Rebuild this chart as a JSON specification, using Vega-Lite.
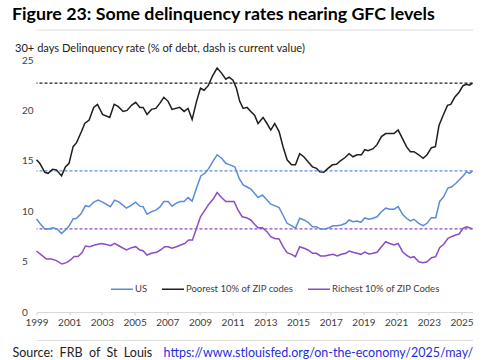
{
  "$schema": "https://vega.github.io/schema/vega-lite/v6.json",
  "autosize": "none",
  "padding": {"left": 36.5, "top": 60, "right": 12, "bottom": 48},
  "width": 436,
  "height": 252,
  "config": {"view": {"stroke": null}, "font": "Lato"},
  "title": {"text": "Figure 23: Some delinquency rates nearing GFC levels", "anchor": "start", "frame": "group", "dx": -24.5, "dy": 2, "fontSize": 17.8, "font": "Lato", "fontWeight": "bold", "color": "#000000", "offset": 8},
  "datasets": {
    "current": [
      {"s": "US", "v": 14.0},
      {"s": "Poorest 10% of ZIP codes", "v": 22.7},
      {"s": "Richest 10% of ZIP Codes", "v": 8.25}
    ],
    "us": [
      {"t":1999.00,"v":9.23},{"t":1999.20,"v":8.8},{"t":1999.51,"v":8.23},{"t":1999.71,"v":8.23},{"t":2000.02,"v":8.36},{"t":2000.26,"v":8.23},{"t":2000.53,"v":7.8},{"t":2000.77,"v":8.13},{"t":2000.99,"v":8.53},{"t":2001.24,"v":9.23},{"t":2001.45,"v":9.3},{"t":2001.75,"v":9.8},{"t":2001.99,"v":10.55},{"t":2002.22,"v":10.45},{"t":2002.50,"v":10.9},{"t":2002.77,"v":11.1},{"t":2003.04,"v":10.9},{"t":2003.52,"v":10.45},{"t":2003.78,"v":11.1},{"t":2004.05,"v":10.9},{"t":2004.50,"v":10.3},{"t":2004.81,"v":10.6},{"t":2005.07,"v":10.9},{"t":2005.32,"v":10.5},{"t":2005.52,"v":10.45},{"t":2005.76,"v":9.7},{"t":2006.03,"v":9.95},{"t":2006.30,"v":10.1},{"t":2006.54,"v":10.4},{"t":2006.79,"v":10.95},{"t":2007.05,"v":10.95},{"t":2007.29,"v":10.5},{"t":2007.56,"v":10.8},{"t":2007.80,"v":10.95},{"t":2008.03,"v":10.95},{"t":2008.27,"v":11.35},{"t":2008.52,"v":11.0},{"t":2008.79,"v":12.3},{"t":2009.05,"v":13.5},{"t":2009.30,"v":13.76},{"t":2009.54,"v":14.25},{"t":2009.81,"v":15.0},{"t":2010.05,"v":15.6},{"t":2010.32,"v":15.25},{"t":2010.58,"v":14.75},{"t":2010.83,"v":14.6},{"t":2011.13,"v":14.4},{"t":2011.40,"v":13.25},{"t":2011.64,"v":12.6},{"t":2011.88,"v":12.4},{"t":2012.11,"v":12.2},{"t":2012.35,"v":11.75},{"t":2012.55,"v":11.35},{"t":2012.82,"v":11.6},{"t":2013.10,"v":11.1},{"t":2013.33,"v":10.7},{"t":2013.57,"v":10.55},{"t":2013.84,"v":10.35},{"t":2014.08,"v":9.6},{"t":2014.33,"v":8.8},{"t":2014.60,"v":8.56},{"t":2014.84,"v":8.3},{"t":2015.10,"v":9.3},{"t":2015.37,"v":9.13},{"t":2015.61,"v":8.9},{"t":2015.88,"v":8.46},{"t":2016.13,"v":8.46},{"t":2016.37,"v":8.23},{"t":2016.63,"v":8.23},{"t":2016.90,"v":8.36},{"t":2017.14,"v":8.56},{"t":2017.39,"v":8.56},{"t":2017.65,"v":8.63},{"t":2017.92,"v":8.8},{"t":2018.12,"v":9.13},{"t":2018.36,"v":8.96},{"t":2018.61,"v":9.03},{"t":2018.84,"v":8.9},{"t":2019.08,"v":9.33},{"t":2019.34,"v":9.2},{"t":2019.59,"v":9.3},{"t":2019.83,"v":9.45},{"t":2020.10,"v":9.95},{"t":2020.36,"v":10.3},{"t":2020.61,"v":10.2},{"t":2020.87,"v":10.2},{"t":2021.12,"v":10.45},{"t":2021.39,"v":9.7},{"t":2021.63,"v":9.3},{"t":2021.87,"v":9.03},{"t":2022.09,"v":9.2},{"t":2022.38,"v":8.8},{"t":2022.65,"v":8.56},{"t":2022.89,"v":8.8},{"t":2023.16,"v":9.36},{"t":2023.42,"v":9.36},{"t":2023.66,"v":10.95},{"t":2023.91,"v":11.45},{"t":2024.17,"v":12.3},{"t":2024.38,"v":12.4},{"t":2024.64,"v":12.75},{"t":2024.85,"v":13.1},{"t":2025.09,"v":13.5},{"t":2025.30,"v":13.9},{"t":2025.49,"v":13.76},{"t":2025.67,"v":14.0}
    ],
    "poor": [
      {"t":1999.00,"v":15.1},{"t":1999.20,"v":14.75},{"t":1999.51,"v":13.86},{"t":1999.71,"v":13.76},{"t":1999.98,"v":14.15},{"t":2000.22,"v":14.1},{"t":2000.53,"v":13.5},{"t":2000.77,"v":14.4},{"t":2000.99,"v":14.75},{"t":2001.24,"v":16.4},{"t":2001.45,"v":16.8},{"t":2001.75,"v":17.9},{"t":2001.95,"v":18.7},{"t":2002.22,"v":19.05},{"t":2002.50,"v":20.3},{"t":2002.73,"v":20.6},{"t":2003.04,"v":19.6},{"t":2003.48,"v":19.3},{"t":2003.75,"v":20.6},{"t":2003.99,"v":20.4},{"t":2004.30,"v":19.9},{"t":2004.54,"v":20.0},{"t":2004.81,"v":20.5},{"t":2005.07,"v":20.8},{"t":2005.32,"v":20.3},{"t":2005.52,"v":20.3},{"t":2005.76,"v":19.6},{"t":2006.03,"v":20.1},{"t":2006.30,"v":20.2},{"t":2006.54,"v":20.7},{"t":2006.79,"v":21.3},{"t":2007.05,"v":20.9},{"t":2007.29,"v":20.1},{"t":2007.76,"v":20.3},{"t":2008.03,"v":19.9},{"t":2008.27,"v":20.2},{"t":2008.52,"v":19.1},{"t":2008.79,"v":20.9},{"t":2009.03,"v":22.2},{"t":2009.25,"v":22.0},{"t":2009.50,"v":22.45},{"t":2009.76,"v":23.4},{"t":2010.05,"v":24.2},{"t":2010.32,"v":23.7},{"t":2010.58,"v":23.1},{"t":2010.78,"v":23.3},{"t":2011.02,"v":23.0},{"t":2011.23,"v":22.2},{"t":2011.43,"v":20.9},{"t":2011.64,"v":20.2},{"t":2011.88,"v":20.3},{"t":2012.11,"v":19.9},{"t":2012.35,"v":19.5},{"t":2012.55,"v":18.7},{"t":2012.86,"v":19.3},{"t":2013.10,"v":18.7},{"t":2013.33,"v":18.05},{"t":2013.57,"v":18.7},{"t":2013.84,"v":17.9},{"t":2014.08,"v":16.4},{"t":2014.33,"v":15.1},{"t":2014.60,"v":14.6},{"t":2014.84,"v":14.6},{"t":2015.10,"v":15.7},{"t":2015.35,"v":15.4},{"t":2015.61,"v":14.9},{"t":2015.88,"v":14.4},{"t":2016.13,"v":14.25},{"t":2016.33,"v":13.9},{"t":2016.57,"v":13.86},{"t":2016.83,"v":14.25},{"t":2017.10,"v":14.6},{"t":2017.35,"v":14.65},{"t":2017.59,"v":15.0},{"t":2017.86,"v":15.3},{"t":2018.12,"v":15.7},{"t":2018.36,"v":15.4},{"t":2018.61,"v":15.6},{"t":2018.88,"v":15.6},{"t":2019.08,"v":16.1},{"t":2019.28,"v":16.0},{"t":2019.59,"v":16.2},{"t":2019.83,"v":16.6},{"t":2020.10,"v":17.4},{"t":2020.36,"v":17.7},{"t":2020.61,"v":17.7},{"t":2020.87,"v":17.7},{"t":2021.12,"v":18.05},{"t":2021.39,"v":17.2},{"t":2021.63,"v":16.4},{"t":2021.87,"v":15.9},{"t":2022.09,"v":15.9},{"t":2022.38,"v":15.6},{"t":2022.65,"v":15.25},{"t":2022.89,"v":15.6},{"t":2023.16,"v":16.3},{"t":2023.40,"v":16.4},{"t":2023.62,"v":18.5},{"t":2023.87,"v":19.5},{"t":2024.14,"v":20.5},{"t":2024.34,"v":20.6},{"t":2024.58,"v":21.3},{"t":2024.85,"v":21.8},{"t":2025.09,"v":22.45},{"t":2025.30,"v":22.6},{"t":2025.49,"v":22.5},{"t":2025.67,"v":22.7}
    ],
    "rich": [
      {"t":1999.00,"v":6.05},{"t":1999.31,"v":5.65},{"t":1999.61,"v":5.26},{"t":1999.92,"v":5.26},{"t":2000.22,"v":5.1},{"t":2000.56,"v":4.76},{"t":2000.83,"v":4.9},{"t":2001.08,"v":5.16},{"t":2001.30,"v":5.5},{"t":2001.54,"v":5.5},{"t":2001.79,"v":5.9},{"t":2001.99,"v":6.55},{"t":2002.26,"v":6.48},{"t":2002.56,"v":6.65},{"t":2002.97,"v":6.8},{"t":2003.28,"v":6.7},{"t":2003.54,"v":6.58},{"t":2003.78,"v":6.8},{"t":2004.05,"v":6.55},{"t":2004.50,"v":6.15},{"t":2004.81,"v":6.38},{"t":2005.07,"v":6.48},{"t":2005.32,"v":6.15},{"t":2005.52,"v":6.08},{"t":2005.76,"v":5.65},{"t":2006.03,"v":5.82},{"t":2006.34,"v":5.92},{"t":2006.58,"v":6.15},{"t":2006.84,"v":6.48},{"t":2007.05,"v":6.48},{"t":2007.29,"v":6.32},{"t":2007.56,"v":6.48},{"t":2007.82,"v":6.65},{"t":2008.07,"v":6.8},{"t":2008.31,"v":7.14},{"t":2008.54,"v":7.14},{"t":2008.79,"v":8.3},{"t":2009.03,"v":9.45},{"t":2009.30,"v":10.1},{"t":2009.54,"v":10.7},{"t":2009.81,"v":11.2},{"t":2010.05,"v":11.85},{"t":2010.32,"v":11.35},{"t":2010.58,"v":10.95},{"t":2010.83,"v":10.95},{"t":2011.09,"v":10.95},{"t":2011.33,"v":10.1},{"t":2011.58,"v":9.45},{"t":2011.84,"v":9.36},{"t":2012.11,"v":9.13},{"t":2012.35,"v":8.68},{"t":2012.55,"v":8.36},{"t":2012.82,"v":8.36},{"t":2013.10,"v":7.97},{"t":2013.33,"v":7.47},{"t":2013.57,"v":7.3},{"t":2013.84,"v":7.24},{"t":2014.08,"v":6.48},{"t":2014.33,"v":5.88},{"t":2014.60,"v":5.72},{"t":2014.84,"v":5.49},{"t":2015.10,"v":6.48},{"t":2015.37,"v":6.32},{"t":2015.61,"v":6.15},{"t":2015.88,"v":5.82},{"t":2016.13,"v":5.82},{"t":2016.37,"v":5.56},{"t":2016.63,"v":5.56},{"t":2016.90,"v":5.65},{"t":2017.14,"v":5.72},{"t":2017.39,"v":5.56},{"t":2017.65,"v":5.72},{"t":2017.92,"v":5.82},{"t":2018.12,"v":6.05},{"t":2018.36,"v":5.92},{"t":2018.61,"v":5.82},{"t":2018.84,"v":5.72},{"t":2019.08,"v":5.95},{"t":2019.34,"v":5.75},{"t":2019.59,"v":5.82},{"t":2019.83,"v":5.92},{"t":2020.10,"v":6.48},{"t":2020.36,"v":6.97},{"t":2020.61,"v":6.8},{"t":2020.87,"v":6.65},{"t":2021.12,"v":6.8},{"t":2021.39,"v":5.98},{"t":2021.63,"v":5.65},{"t":2021.87,"v":5.39},{"t":2022.09,"v":5.49},{"t":2022.38,"v":4.99},{"t":2022.65,"v":4.89},{"t":2022.89,"v":4.99},{"t":2023.16,"v":5.39},{"t":2023.42,"v":5.49},{"t":2023.66,"v":6.38},{"t":2023.91,"v":6.72},{"t":2024.17,"v":7.3},{"t":2024.38,"v":7.47},{"t":2024.64,"v":7.64},{"t":2024.85,"v":7.74},{"t":2025.09,"v":8.3},{"t":2025.30,"v":8.45},{"t":2025.49,"v":8.35},{"t":2025.67,"v":8.25}
    ]
  },
  "resolve": {"axis": {"x": "independent", "y": "independent"}},
  "layer": [
    {
      "data": {"name": "current"},
      "mark": {"type": "rule", "strokeDash": [3, 2], "strokeWidth": 1.2},
      "encoding": {
        "y": {"field": "v", "type": "quantitative", "scale": {"domain": [0, 25]},
          "axis": {"orient": "right", "labels": false, "ticks": false, "domain": false, "grid": false,
            "title": "https://www.stlouisfed.org/on-the-economy/2025/may/", "titleAngle": 0, "titleAlign": "left", "titleBaseline": "alphabetic",
            "titleX": -309.5, "titleY": 296, "titleColor": "#1f2ee0", "titleFontSize": 12.5, "titleFontWeight": "normal", "titleFont": "Lato"}},
        "color": {"field": "s", "type": "nominal",
          "scale": {"domain": ["US", "Poorest 10% of ZIP codes", "Richest 10% of ZIP Codes"], "range": ["#5B8BD9", "#1E1E1E", "#8A4DC2"]},
          "legend": {"title": null, "orient": "none", "direction": "horizontal", "legendX": 73.5, "legendY": 217,
            "symbolType": "stroke", "symbolSize": 484, "symbolStrokeWidth": 1.5, "symbolDash": [1, 0], "labelFontSize": 9.5, "labelColor": "#404040", "labelFont": "Lato",
            "columnPadding": 11, "labelOffset": 1}}
      }
    },
    {
      "data": {"name": "us"},
      "mark": {"type": "line", "strokeWidth": 1.5},
      "encoding": {
        "x": {"field": "t", "type": "quantitative", "scale": {"domain": [1999, 2025.67], "nice": false, "zero": false},
          "axis": {"values": [1999,2001,2003,2005,2007,2009,2011,2013,2015,2017,2019,2021,2023,2025], "format": "d", "grid": false, "title": null,
            "labelFontSize": 10, "labelColor": "#404040", "labelFont": "Lato", "tickSize": 3, "tickColor": "#d0d0d0", "domainColor": "#d9d9d9", "labelPadding": 2, "labelFlush": false}},
        "y": {"field": "v", "type": "quantitative", "scale": {"domain": [0, 25], "nice": false},
          "axis": {"values": [0,5,10,15,20,25], "ticks": false, "domain": false, "grid": false, "labelAlign": "left", "labelPadding": 15,
            "labelFontSize": 10, "labelColor": "#404040", "labelFont": "Lato",
            "title": "30+ days Delinquency rate (% of debt, dash is current value)", "titleAngle": 0, "titleAlign": "left", "titleBaseline": "alphabetic",
            "titleX": -22, "titleY": -9, "titleFontSize": 11.1, "titleFontWeight": "normal", "titleColor": "#222222", "titleFont": "Lato"}},
        "color": {"datum": "US", "type": "nominal"}
      }
    },
    {
      "data": {"name": "poor"},
      "mark": {"type": "line", "strokeWidth": 1.5},
      "encoding": {
        "x": {"field": "t", "type": "quantitative",
          "axis": {"orient": "top", "offset": 30.5, "labels": false, "ticks": false, "grid": false, "title": null, "domainColor": "#dcdcdc"}},
        "y": {"field": "v", "type": "quantitative", "axis": null},
        "color": {"datum": "Poorest 10% of ZIP codes", "type": "nominal"}
      }
    },
    {
      "data": {"name": "rich"},
      "mark": {"type": "line", "strokeWidth": 1.5},
      "encoding": {
        "x": {"field": "t", "type": "quantitative",
          "axis": {"orient": "bottom", "offset": 28, "labels": false, "ticks": false, "grid": false, "domainColor": "#dcdcdc",
            "title": "Source:\u00a0\u00a0FRB\u00a0\u00a0of\u00a0\u00a0St\u00a0\u00a0Louis", "titleX": -24.5, "titleY": 16, "titleAlign": "left", "titleBaseline": "alphabetic",
            "titleFontSize": 12.5, "titleFontWeight": "normal", "titleColor": "#222222", "titleFont": "Lato"}},
        "y": {"field": "v", "type": "quantitative", "axis": null},
        "color": {"datum": "Richest 10% of ZIP Codes", "type": "nominal"}
      }
    }
  ]
}
